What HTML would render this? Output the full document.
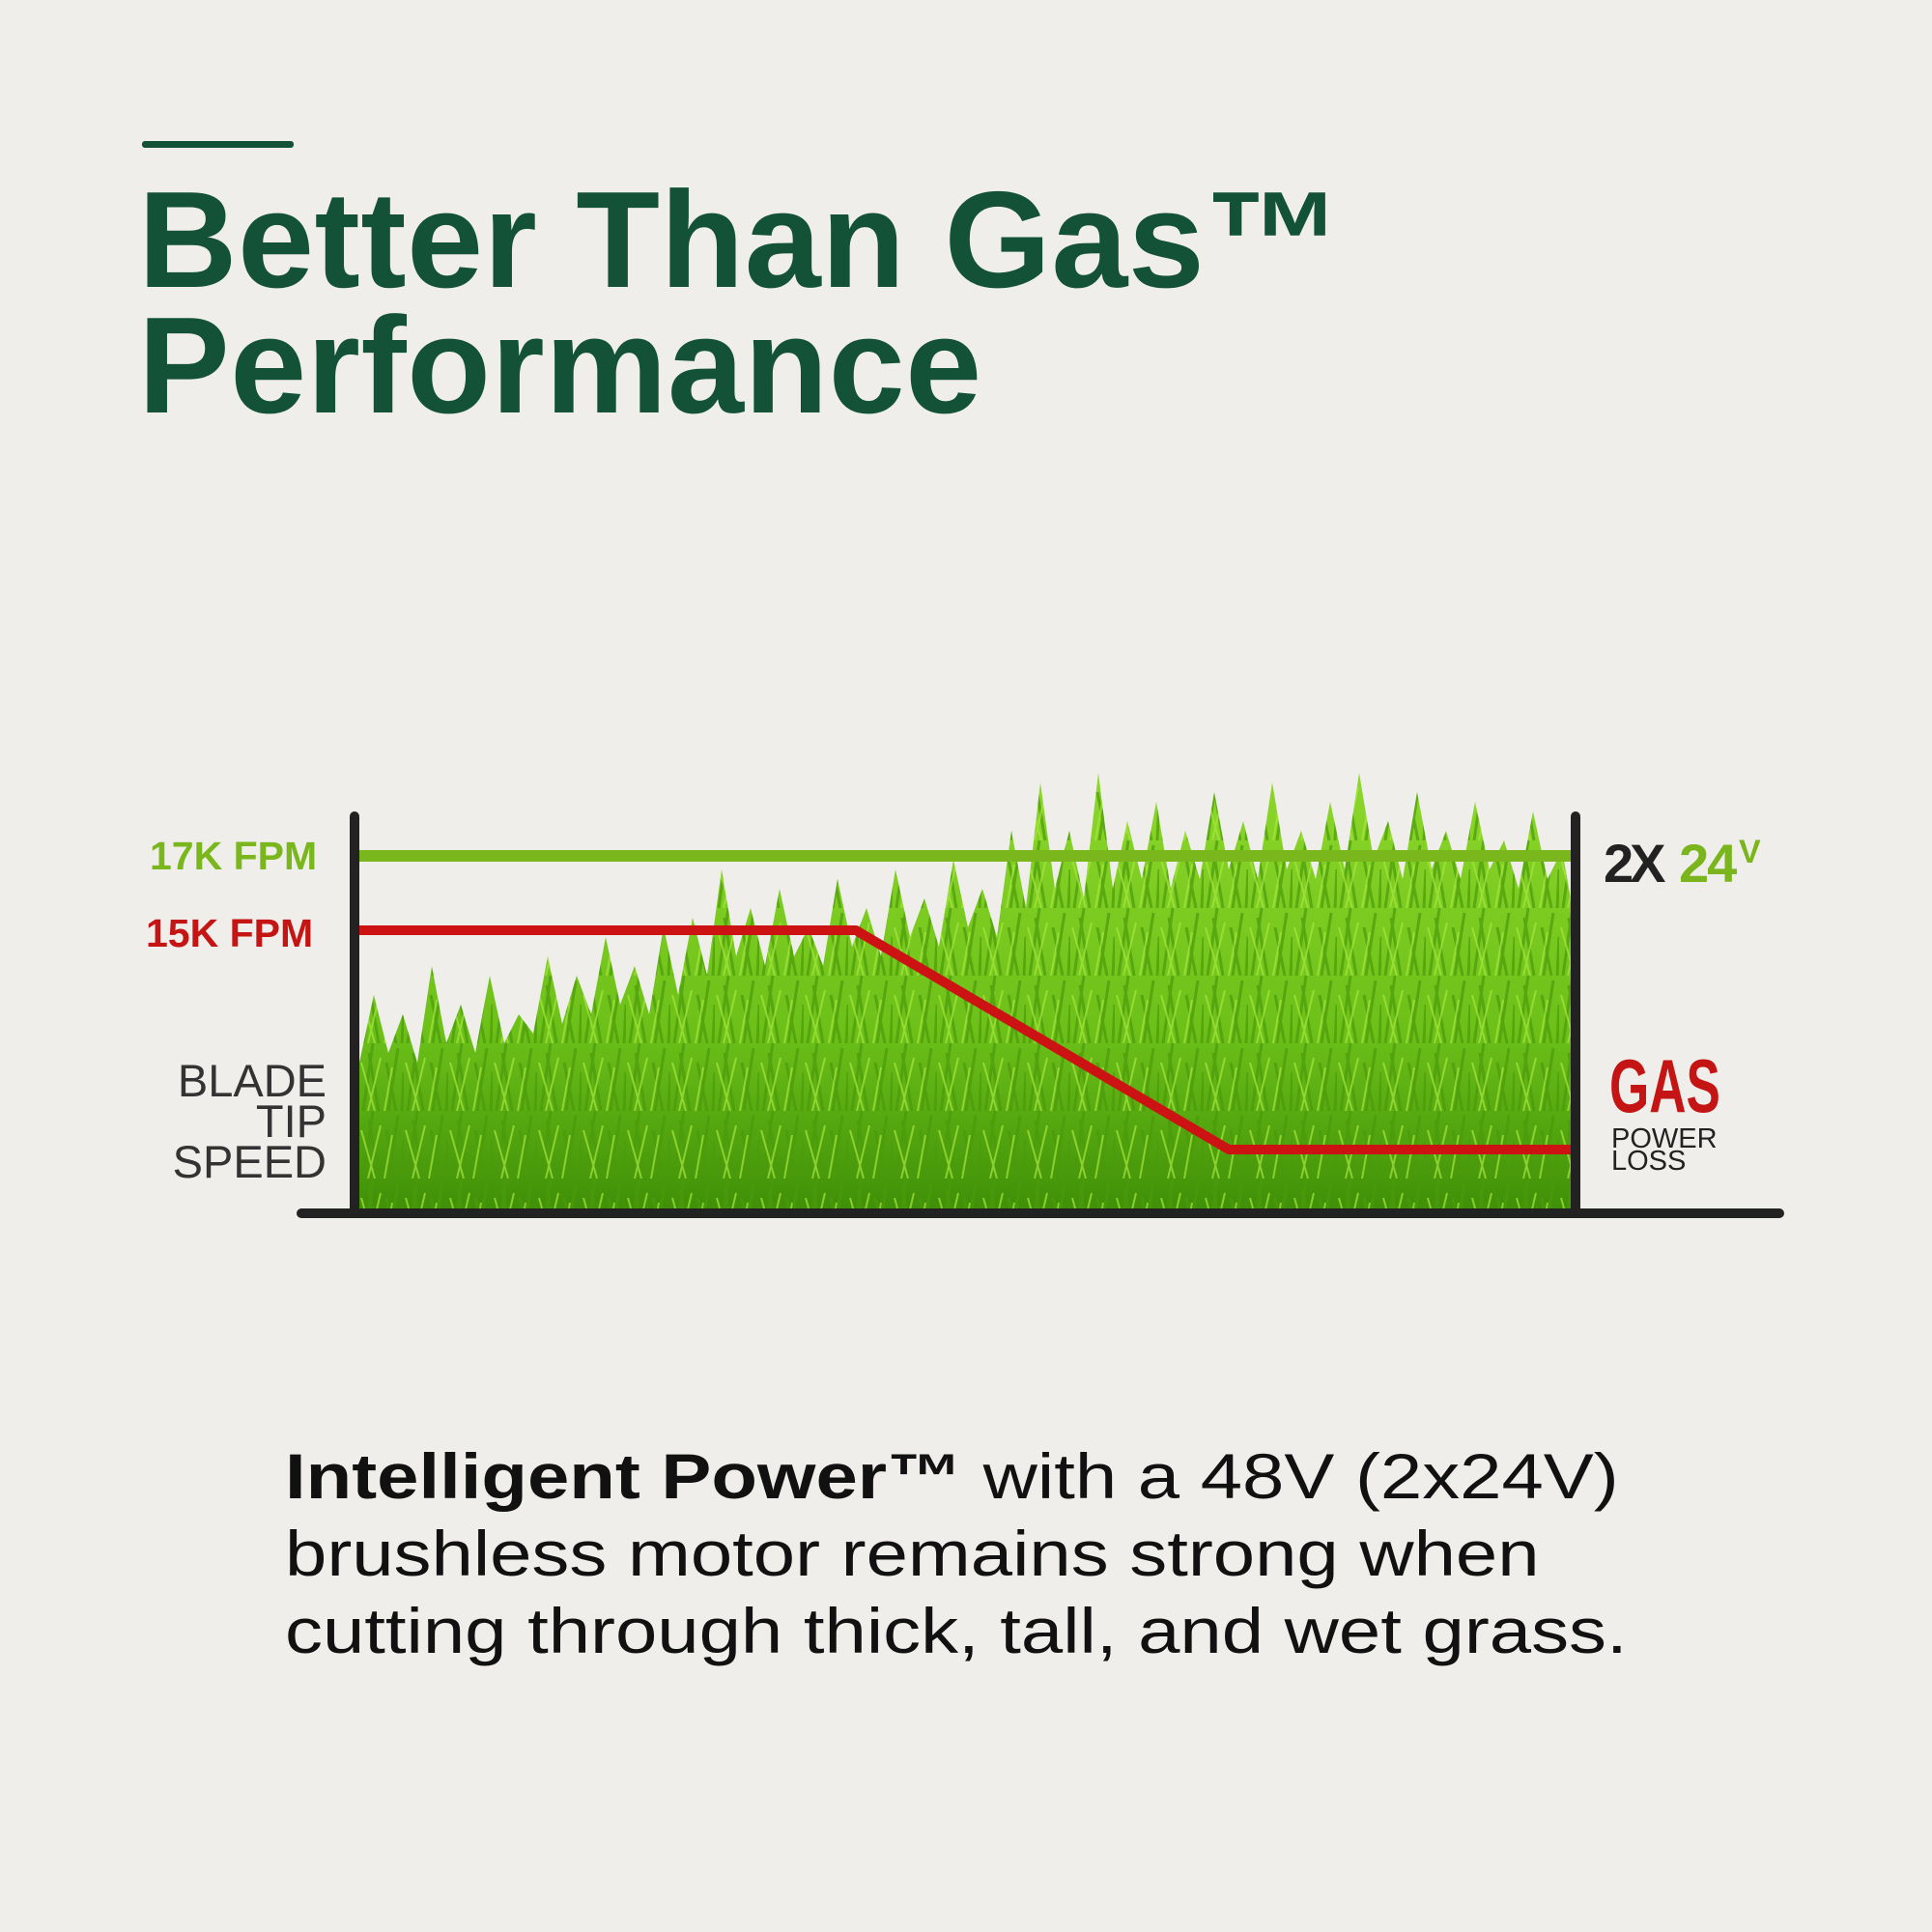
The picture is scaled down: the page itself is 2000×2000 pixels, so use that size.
<!DOCTYPE html>
<html><head><meta charset="utf-8"><style>
body{margin:0;background:#efeeea;}
#c{position:relative;width:2000px;height:2000px;background:#efeeea;overflow:hidden;font-family:"Liberation Sans",sans-serif;}
.t{position:absolute;white-space:nowrap;}
</style></head><body><div id="c">
<div style="position:absolute;left:147px;top:146px;width:157px;height:7px;background:#145237;border-radius:3px"></div>
<div class="t" style="left:143px;top:184px;font-size:142px;font-weight:bold;color:#145237;line-height:130px;letter-spacing:0.5px">Better Than Gas™<br>Performance</div>

<svg width="2000" height="2000" style="position:absolute;left:0;top:0">
<defs>
<linearGradient id="gr" x1="0" y1="0" x2="0" y2="1"><stop offset="0" stop-color="#8fd82c"/><stop offset="0.6" stop-color="#6cc018"/><stop offset="1" stop-color="#3f8f08"/></linearGradient>
<pattern id="bl" patternUnits="userSpaceOnUse" x="372" y="800" width="46" height="70">
<path d="M4 70 L14 0 M20 70 L10 10 M30 70 L40 5 M38 70 L28 20 M44 70 L46 30" stroke="#4a9a0a" stroke-width="3" fill="none" opacity="0.7"/>
<path d="M9 70 L22 15 M26 70 L34 25 M16 70 L2 20" stroke="#a6e83c" stroke-width="2" fill="none" opacity="0.7"/>
</pattern>
<clipPath id="cp"><polygon points="372,1252 372,1100 387,1030 402,1090 417,1050 432,1100 447,1000 462,1080 477,1040 492,1090 507,1010 522,1080 537,1050 552,1070 567,990 582,1060 597,1010 612,1050 627,970 642,1040 657,1000 672,1050 687,960 702,1030 717,950 732,1010 747,900 762,990 777,940 792,1000 807,920 822,990 837,960 852,1000 867,910 882,980 897,940 912,990 927,900 942,970 957,930 972,980 987,890 1002,960 1017,920 1032,970 1047,860 1062,940 1077,810 1092,920 1107,860 1122,930 1137,800 1152,920 1167,850 1182,910 1197,830 1212,920 1227,860 1242,910 1257,820 1272,900 1287,850 1302,910 1317,810 1332,900 1347,860 1362,910 1377,830 1392,900 1407,800 1422,890 1437,850 1452,910 1467,820 1482,900 1497,860 1512,910 1527,830 1542,900 1557,870 1572,920 1587,840 1602,910 1617,880 1626,930 1626,1252"/></clipPath>
</defs>
<g clip-path="url(#cp)">
<rect x="372" y="790" width="1255" height="465" fill="url(#gr)"/>
<rect x="372" y="790" width="1255" height="465" fill="url(#bl)"/>
</g>
<line x1="372" y1="886" x2="1626" y2="886" stroke="#79b71c" stroke-width="12"/>
<polyline points="372,963 886,963 1272,1190 1626,1190" fill="none" stroke="#cc1212" stroke-width="10" stroke-linejoin="round"/>
<line x1="367" y1="845" x2="367" y2="1256" stroke="#222" stroke-width="10" stroke-linecap="round"/>
<line x1="1631" y1="845" x2="1631" y2="1256" stroke="#222" stroke-width="10" stroke-linecap="round"/>
<line x1="312" y1="1256" x2="1842" y2="1256" stroke="#222" stroke-width="10" stroke-linecap="round"/>
<text x="1660" y="913" font-family="Liberation Sans" font-weight="bold" font-size="56" fill="#222" letter-spacing="-4">2X</text>
<text x="1738" y="913" font-family="Liberation Sans" font-weight="bold" font-size="56" fill="#7ab51d" letter-spacing="-2">24</text>
<text x="1800" y="893" font-family="Liberation Sans" font-weight="bold" font-size="34" fill="#7ab51d">V</text>
</svg>

<div class="t" style="left:155px;top:863px;font-size:41px;font-weight:bold;color:#79b71c">17K FPM</div>
<div class="t" style="left:151px;top:943px;font-size:41px;font-weight:bold;color:#c41414">15K FPM</div>
<div class="t" style="left:140px;top:1098px;width:198px;text-align:right;font-size:47px;color:#333;line-height:42px">BLADE<br>TIP<br>SPEED</div>
<div class="t" style="left:1666px;top:1084px;font-size:78px;font-weight:bold;color:#c41414;transform:scaleX(0.68);transform-origin:left top;line-height:80px">GAS</div>
<div class="t" style="left:1668px;top:1168px;font-size:29px;color:#222;line-height:23px">POWER<br>LOSS</div>
<div class="t" style="left:295px;top:1488px;font-size:66px;color:#111;line-height:80px;transform:scaleX(1.18);transform-origin:left top"><b>Intelligent Power™</b> with a 48V (2x24V)<br>brushless motor remains strong when<br>cutting through thick, tall, and wet grass.</div>
</div></body></html>
